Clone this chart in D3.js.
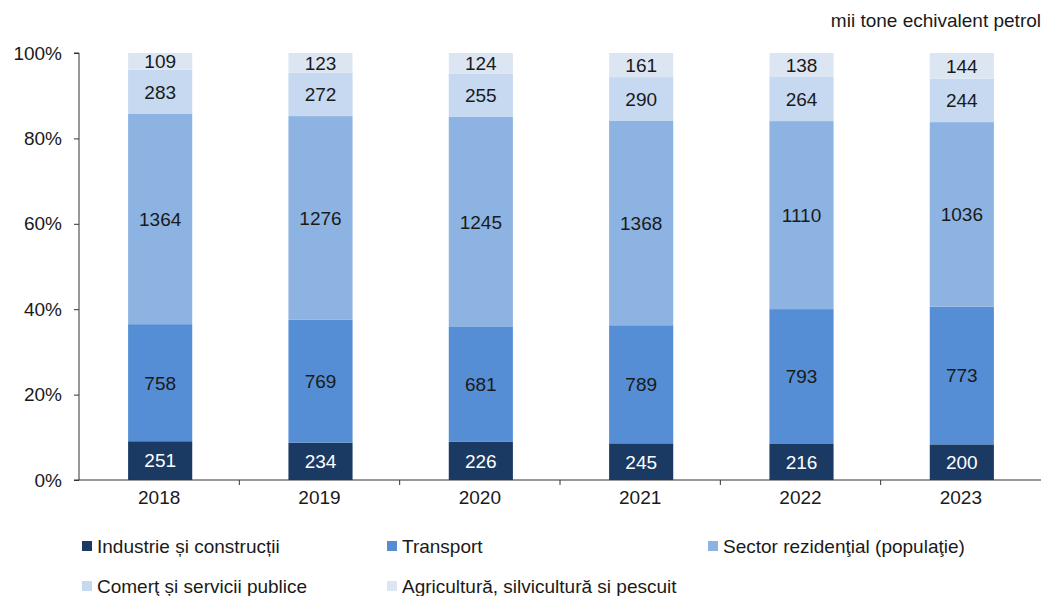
<!DOCTYPE html>
<html>
<head>
<meta charset="utf-8">
<script src="https://cdn.jsdelivr.net/npm/d3@7"></script>
<style>
  body { margin: 0; background: #fff; }
  svg text { font-family: "Liberation Sans", Arial, sans-serif; }
</style>
</head>
<body>
<svg id="chart" width="1045" height="596"></svg>
<script>
// Final energy consumption by sector, thousand tonnes oil equivalent
const years = ["2018", "2019", "2020", "2021", "2022", "2023"];
const industrie = [251, 234, 226, 245, 216, 200];
const transport = [758, 769, 681, 789, 793, 773];
const rezidential = [1364, 1276, 1245, 1368, 1110, 1036];
const comert = [283, 272, 255, 290, 264, 244];
const agricultura = [109, 123, 124, 161, 138, 144];
const seriesNames = [
  "Industrie și construcții",
  "Transport",
  "Sector rezidenţial (populaţie)",
  "Comerţ și servicii publice",
  "Agricultură, silvicultură si pescuit"
];
const seriesColors = ["#1a3a64", "#558ed5", "#8db3e2", "#c6d9f1", "#dce6f2"];
const yTicks = [0, 0.2, 0.4, 0.6, 0.8, 1];
const unitLabel = "mii tone echivalent petrol";

const seriesValues = [industrie, transport, rezidential, comert, agricultura];
const rows = years.map((y, i) => {
  const r = { year: y };
  seriesNames.forEach((n, k) => r[n] = seriesValues[k][i]);
  return r;
});

const svg = d3.select("#chart");
const margin = { left: 79, right: 4, top: 53, bottom: 116 };
const W = 1045, H = 596;
const FS = 19;

const x = d3.scaleBand().domain(years).range([margin.left, W - margin.right]).paddingInner(0.6).paddingOuter(0.3);
const xOuter = d3.scaleBand().domain(years).range([margin.left, W - margin.right]);
const y = d3.scaleLinear().domain([0, 1]).range([H - margin.bottom, margin.top]);

const stack = d3.stack().keys(seriesNames).offset(d3.stackOffsetExpand);
const stacked = stack(rows);

const g = svg.append("g");
stacked.forEach((layer, k) => {
  const grp = g.append("g").attr("fill", seriesColors[k]);
  grp.selectAll("rect").data(layer).join("rect")
    .attr("x", d => x(d.data.year) + 1)
    .attr("width", x.bandwidth())
    .attr("y", d => y(d[1]))
    .attr("height", d => y(d[0]) - y(d[1]));
  grp.selectAll("text").data(layer).join("text")
    .attr("x", d => x(d.data.year) + 1 + x.bandwidth() / 2)
    .attr("y", d => (y(d[0]) + y(d[1])) / 2)
    .attr("dy", "0.36em")
    .attr("text-anchor", "middle")
    .attr("font-size", FS)
    .attr("fill", k === 0 ? "#ffffff" : "#1a1a1a")
    .text(d => d.data[seriesNames[k]]);
});

// Y axis
const yAxis = d3.axisLeft(y).tickValues(yTicks).tickFormat(d3.format(".0%")).tickSize(5).tickPadding(12);
const ya = svg.append("g").attr("transform", `translate(${margin.left},0)`).call(yAxis);
ya.select(".domain").attr("stroke", "#333").attr("d", `M-5,${y(1)}H0V${y(0)}H-5`);
ya.selectAll(".tick line").attr("stroke", "#333");
ya.selectAll(".tick text").attr("font-size", FS).attr("fill", "#1a1a1a").attr("font-family", "Liberation Sans, Arial, sans-serif");

// X axis with ticks between categories
const xa = svg.append("g").attr("transform", `translate(0,${y(0)})`);
xa.append("line").attr("x1", margin.left).attr("x2", W - margin.right).attr("stroke", "#333");
const bounds = years.slice(1).map(yr => xOuter(yr));
xa.selectAll("line.tk").data(bounds).join("line").attr("class", "tk")
  .attr("x1", d => d).attr("x2", d => d).attr("y1", 0).attr("y2", 5).attr("stroke", "#333");
xa.selectAll("text").data(years).join("text")
  .attr("x", d => xOuter(d) + xOuter.bandwidth() / 2)
  .attr("y", 17)
  .attr("dy", "0.36em")
  .attr("text-anchor", "middle")
  .attr("font-size", FS)
  .attr("fill", "#1a1a1a")
  .text(d => d);

// Unit label
svg.append("text").attr("x", 1041).attr("y", 20).attr("dy", "0.36em").attr("text-anchor", "end")
  .attr("font-size", FS).attr("fill", "#1a1a1a").text(unitLabel);

// Legend
const legendPos = [[82, 546], [387, 546], [708, 546], [82, 586], [387, 586]];
const lg = svg.append("g");
seriesNames.forEach((n, k) => {
  const [lx, ly] = legendPos[k];
  lg.append("rect").attr("x", lx).attr("y", ly - 5).attr("width", 10).attr("height", 10).attr("fill", seriesColors[k]);
  lg.append("text").attr("x", lx + 15).attr("y", ly).attr("dy", "0.36em")
    .attr("font-size", FS).attr("fill", "#1a1a1a").text(n);
});
</script>
</body>
</html>
